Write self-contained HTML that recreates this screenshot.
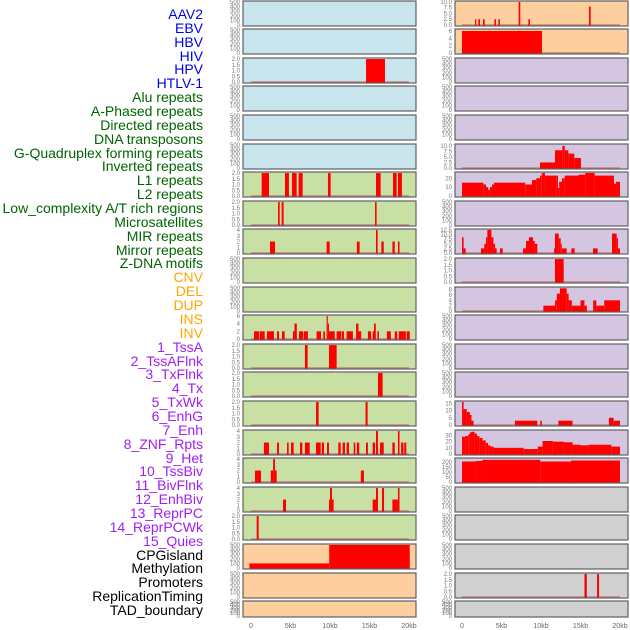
<!DOCTYPE html>
<html><head><meta charset="utf-8">
<style>
html,body{margin:0;padding:0;background:#fff;}
#wrap{position:relative;width:630px;height:630px;overflow:hidden;font-family:"Liberation Sans",sans-serif;}
.lbl{position:absolute;right:427px;font-size:14px;line-height:14px;white-space:nowrap;}
</style></head>
<body>
<div id="wrap">
<svg id="svg" width="630" height="630" style="position:absolute;left:0;top:0"></svg>
</div>
<script>
// ---- labels ----
const labels = ["AAV2","EBV","HBV","HIV","HPV","HTLV-1","Alu repeats","A-Phased repeats","Directed repeats","DNA transposons","G-Quadruplex forming repeats","Inverted repeats","L1 repeats","L2 repeats","Low_complexity A/T rich regions","Microsatellites","MIR repeats","Mirror repeats","Z-DNA motifs","CNV","DEL","DUP","INS","INV","1_TssA","2_TssAFlnk","3_TxFlnk","4_Tx","5_TxWk","6_EnhG","7_Enh","8_ZNF_Rpts","9_Het","10_TssBiv","11_BivFlnk","12_EnhBiv","13_ReprPC","14_ReprPCWk","15_Quies","CPGisland","Methylation","Promoters","ReplicationTiming","TAD_boundary"];
const labelGroups = [0,0,0,0,0,0,1,1,1,1,1,1,1,1,1,1,1,1,1,2,2,2,2,2,3,3,3,3,3,3,3,3,3,3,3,3,3,3,3,4,4,4,4,4];
const groupColors = ["#0000ee","#006400","#ffa500","#a020f0","#000000"];
const xTicks = [0,5,10,15,20];
const xTickLabels = ["0","5kb","10kb","15kb","20kb"];

// ---- data: [startKb, endKb, value] ----
const L2_hiv = [[14.56,16.96,2]];
const L6_l1 = [[1.35,2.28,2],[4.3,4.8,2],[5.19,5.78,2],[6.03,6.54,2],[9.74,10.08,2],[15.82,16.41,2],[17.97,18.44,2],[18.6,19.1,2]];
const L7 = [[3.42,3.63,2],[3.88,4.13,2],[15.7,15.9,2]];
const L8 = [[2.4,3.04,2],[9.57,9.96,2],[13.4,13.75,2],[15.82,16.03,4],[16.5,16.8,2],[17.9,18.2,2],[18.6,18.8,2]];
const L11 = [[0.38,1.06,2],[1.14,1.73,2],[2.02,2.91,2],[3.3,3.55,2],[3.92,4.26,2],[5.3,5.5,2],[5.5,5.8,4],[6.07,6.62,2],[6.7,7.2,2],[8.3,8.86,2],[9.15,9.36,2],[9.57,9.72,6],[9.72,9.87,4],[9.87,10.6,2],[10.84,11.43,2],[11.5,11.77,2],[12.1,12.9,2],[13.3,13.6,4],[13.6,13.95,2],[14.8,15.2,2],[15.4,15.57,2],[15.57,15.8,4],[16.0,16.2,2],[17.2,17.7,2],[18.2,18.5,2],[18.7,19.6,2],[19.7,20.1,2]];
const L12 = [[6.83,7.17,2],[9.87,10.84,2]];
const L13 = [[16.07,16.66,2]];
const L14 = [[8.23,8.56,2],[14.5,14.76,2]];
const L15 = [[1.64,2.28,2],[3.3,3.55,2],[4.56,4.77,2],[5.06,5.4,2],[6.2,6.5,2],[6.83,7.43,2],[8.23,8.82,2],[8.95,9.24,2],[9.62,9.87,2],[11.05,11.35,2],[11.6,11.9,2],[12.1,12.4,2],[13.0,13.2,2],[13.4,13.7,2],[14.56,14.8,2],[15.4,15.7,2],[15.82,16.07,4],[16.33,16.8,2],[17.9,18.2,2],[18.6,18.8,4],[19.0,19.3,2],[19.4,19.66,2]];
const L16 = [[0.5,1.27,2],[2.5,2.8,2],[2.8,3.04,4],[3.04,3.25,2],[13.9,14.3,2]];
const L17 = [[4.05,4.43,2],[9.87,10.0,2],[10.0,10.25,4],[10.25,10.46,2],[15.4,15.82,2],[15.82,16.07,4],[16.58,16.84,4],[17.9,18.35,2],[18.35,18.6,2],[18.6,18.8,4]];
const L18 = [[0.72,0.97,2]];
const L19 = [[-0.2,9.9,100],[9.9,20.1,500]];

const R0 = [[1.65,1.8,2.5],[2.07,2.28,2.5],[2.66,2.87,2.5],[4.1,4.3,2.5],[4.6,4.8,2.5],[7.17,7.38,10],[8.4,8.6,2.5],[16.07,16.29,8]];
const R1 = [[0,10.13,6]];
const R5 = [[9.87,11.77,2.5],[11.77,12.7,8],[12.7,13.0,10],[13.0,13.46,8],[13.46,14.22,6.5],[14.22,15.06,4.5]];
const R6 = [[0,2.7,15],[2.7,3.04,13],[3.04,3.3,10],[3.3,3.54,7],[3.54,3.8,10],[3.8,4.05,13],[4.05,8.0,15],[8.0,8.86,13],[8.86,9.4,18],[9.4,9.87,20],[9.87,10.1,23],[10.1,10.5,26],[10.5,12.0,23],[12.0,12.15,23],[12.15,12.3,9],[12.3,12.66,16],[12.66,13.0,20],[13.0,14.75,23],[14.75,15.6,24],[15.6,16.8,26],[16.8,19.24,23],[19.24,19.5,14],[19.5,20.0,16]];
const R8 = [[0,0.2,8.5],[0.2,0.46,2.5],[2.4,2.83,2.5],[2.83,3.04,5],[3.04,3.21,8.5],[3.21,3.72,12.5],[3.72,3.97,8.5],[3.97,4.18,5],[4.18,4.39,2.5],[4.81,5.15,2.5],[7.72,8.1,2.5],[8.1,8.48,6.5],[8.48,8.99,8.5],[8.99,9.2,6.5],[9.2,9.54,5],[11.65,11.77,2.5],[11.77,12.24,10.5],[12.24,12.49,8],[12.49,12.62,5],[12.62,13.25,2.5],[13.84,14.26,2.5],[16.58,17.17,2.5],[18.99,19.58,10.5],[19.58,19.75,8],[19.75,20.0,2.5]];
const R9 = [[11.77,12.87,2]];
const R10 = [[10.3,11.77,2],[11.77,12.0,4],[12.0,12.4,6.5],[12.4,13.25,8.5],[13.25,13.5,6.5],[13.5,13.9,4],[13.9,15.0,2],[15.0,15.5,4],[15.5,15.8,2],[16.6,17.0,4],[17.0,18.0,2],[18.0,20.0,4]];
const R14 = [[0,0.2,16],[0.2,0.6,11],[0.6,1.0,9],[1.0,1.2,7],[1.2,1.46,3],[6.7,9.54,3],[9.9,10.1,3],[12.2,14.0,3],[18.6,19.2,5],[19.2,20.0,3]];
const R15 = [[0,0.4,28],[0.4,0.8,29],[0.8,1.0,32],[1.0,1.2,35],[1.2,1.6,36],[1.6,1.9,33],[1.9,2.2,29],[2.2,2.6,26],[2.6,3.0,22],[3.0,3.3,18],[3.3,3.6,14],[3.6,4.0,12],[4.0,7.8,10],[7.8,9.6,8],[9.6,10.2,12],[10.2,11.5,21],[11.5,12.9,20],[12.9,14.0,19],[14.0,15.0,15],[15.0,16.0,14],[16.0,18.9,15],[18.9,20.0,12]];
const R16 = [[0,1.7,205],[1.7,2.6,210],[2.6,9.9,222],[9.9,13.8,205],[13.8,20.0,215]];
const R20 = [[15.5,15.8,2],[17.1,17.35,2]];

// ticks per type
const T500 = [0,100,200,300,400,500];
const T2 = [0,0.5,1.0,1.5,2.0];
const T4 = [0,1,2,3,4];
const T6 = [0,2,4,6];
const T10 = [0,2.5,5.0,7.5,10.0];
const T12 = [0,2.5,5.0,7.5,10.0,12.5];
const T15 = [0,5,10,15];
const T20 = [0,10,20];
const T30 = [0,10,20,30];
const T8 = [0,2,4,6,8];
const T200 = [0,50,100,150,200];

const LB="#c8e4ec",GR="#c9e0a5",OR="#fecf9e",PU="#d4c5e1",GY="#d0d0d0";
// [bars, ymax, ticks, decimals, bg]
const leftPanels = [
 [[],510,T500,0,LB],[[],510,T500,0,LB],[L2_hiv,2.05,T2,1,LB],[[],510,T500,0,LB],[[],510,T500,0,LB],[[],510,T500,0,LB],
 [L6_l1,2.05,T2,1,GR],[L7,2.05,T2,1,GR],[L8,4.1,T4,0,GR],[[],510,T500,0,GR],[[],510,T500,0,GR],[L11,6.1,T6,0,GR],
 [L12,2.05,T2,1,GR],[L13,2.05,T2,1,GR],[L14,2.05,T2,1,GR],[L15,4.1,T4,0,GR],[L16,4.1,T4,0,GR],[L17,4.1,T4,0,GR],
 [L18,2.05,T2,1,GR],[L19,510,T500,0,OR],[[],510,T500,0,OR],[[],510,T500,0,OR]
];
const rightPanels = [
 [R0,10.2,T10,1,OR],[R1,6.4,T6,0,OR],[[],510,T500,0,PU],[[],510,T500,0,PU],[[],510,T500,0,PU],[R5,10.6,T10,1,PU],
 [R6,26.5,T20,0,PU],[[],510,T500,0,PU],[R8,12.7,T12,1,PU],[R9,2.05,T2,1,PU],[R10,8.8,T8,0,PU],[[],510,T500,0,PU],
 [[],510,T500,0,PU],[[],510,T500,0,PU],[R14,16.3,T15,0,PU],[R15,38,T30,0,PU],[R16,235,T200,0,PU],[[],510,T500,0,GY],
 [[],510,T500,0,GY],[[],510,T500,0,GY],[R20,2.05,T2,1,GY],[[],510,T500,0,GY]
];

const NS="http://www.w3.org/2000/svg";
const svg=document.getElementById('svg');
function mk(tag,attrs,parent){const e=document.createElementNS(NS,tag);for(const k in attrs)e.setAttribute(k,attrs[k]);(parent||svg).appendChild(e);return e;}

// labels
const wrap=document.getElementById('wrap');
labels.forEach((t,i)=>{
  const d=document.createElement('div');
  d.className='lbl';
  d.textContent=t;
  d.style.top=(15+i*13.86-8)+'px';
  d.style.color=groupColors[labelGroups[i]];
  
  
  wrap.appendChild(d);
});

function drawCol(panels,px0,x0kb,colName){
  const pw=173;
  const xs=kb=>x0kb+kb*7.9;
  panels.forEach((p,i)=>{
    const [bars,ymax,ticks,dec,bg]=p;
    const top=Math.round(0.5+i*28.6);
    const h=(i===21)?16:25;
    const bot=top+h;
    const g=mk('g',{});
    
    
    mk('rect',{x:px0,y:top,width:pw,height:h,fill:bg},g);
    const ys=v=>bot-1-v/ymax*(h-1.5);
    if(bars.length){
      mk('line',{x1:xs(0),x2:xs(20),y1:ys(0),y2:ys(0),stroke:"#c07070","stroke-width":1.5,opacity:0.8},g);
    }
    bars.forEach(b=>{
      const r=mk('rect',{x:xs(b[0]),y:ys(b[2]),width:Math.max(1,xs(b[1])-xs(b[0])),height:ys(0)-ys(b[2])+0.5,fill:"#ff0000"},g);
      
      
    });
    mk('rect',{x:px0,y:top,width:pw,height:h,fill:"none",stroke:"#606060","stroke-width":1.2},g);
    ticks.forEach(t=>{
      const tx=mk('text',{x:px0-3,y:ys(t)+2,"font-size":6,"text-anchor":"end",fill:"#777","font-family":"Liberation Sans, sans-serif"},g);
      tx.textContent=t.toFixed(dec);
      
      
    });
  });
  xTicks.forEach((k,j)=>{
    const tx=mk('text',{x:xs(k),y:628,"font-size":7,"text-anchor":"middle",fill:"#666","font-family":"Liberation Sans, sans-serif"});
    tx.textContent=xTickLabels[j];
    
    
  });
}
drawCol(leftPanels,243,251,'left');
drawCol(rightPanels,455,462,'right');
</script>
</body></html>
